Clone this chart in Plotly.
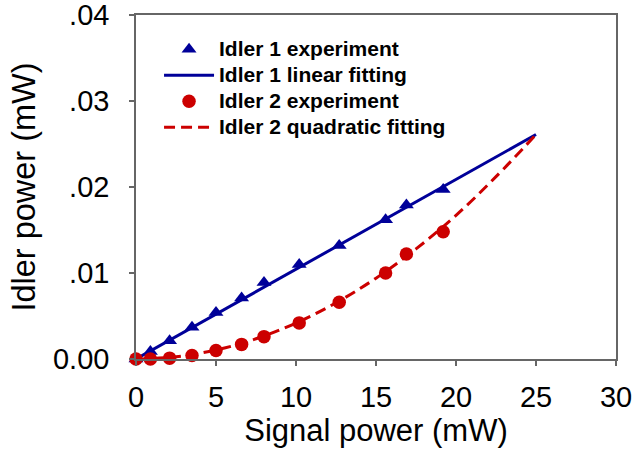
import plotly.graph_objects as go

# Data
signal_x = [0, 0.9, 2.1, 3.5, 5.0, 6.6, 8.0, 10.2, 12.7, 15.6, 16.9, 19.2]
idler1_y = [0, 0.00088, 0.00213, 0.0037, 0.0054, 0.0071, 0.0089, 0.0110, 0.0132, 0.0162, 0.0179, 0.0197]
idler2_y = [0, 0.0000, 0.0001, 0.0004, 0.0010, 0.0017, 0.0026, 0.0042, 0.0066, 0.0100, 0.0122, 0.0148]

lin_fit_x = [0, 25]
lin_fit_y = [0, 0.0261]

quad_fit_x = [0, 2.5, 5, 7.5, 10, 12.5, 15, 17.5, 20, 22.5, 25]
quad_fit_y = [0, 0.00026, 0.00105, 0.00235, 0.00418, 0.00653, 0.0094, 0.0128, 0.0167, 0.0212, 0.0261]

x_ticks = [0, 5, 10, 15, 20, 25, 30]
y_ticks = [0, 0.01, 0.02, 0.03, 0.04]
y_tick_text = ["0.00", ".01", ".02", ".03", ".04"]

BLUE = "#000099"
RED = "#CC0000"
FONT = "Liberation Sans, Arial, sans-serif"
AXIS_COLOR = "#666666"


def legend_label(text):
    return '<span style="font-size:21px">' + text + "</span>"


fig = go.Figure()

fig.add_trace(go.Scatter(
    x=lin_fit_x, y=lin_fit_y, mode="lines", name=legend_label("Idler 1 linear fitting"),
    line=dict(color=BLUE, width=3), legendrank=2, cliponaxis=False))
fig.add_trace(go.Scatter(
    x=signal_x, y=idler1_y, mode="markers", name=legend_label("Idler 1 experiment"),
    marker=dict(symbol="triangle-up", size=13, color=BLUE), legendrank=1, cliponaxis=False))
fig.add_trace(go.Scatter(
    x=quad_fit_x, y=quad_fit_y, mode="lines", name=legend_label("Idler 2 quadratic fitting"),
    line=dict(color=RED, width=3, dash="11px,6px", shape="spline"), legendrank=4, cliponaxis=False))
fig.add_trace(go.Scatter(
    x=signal_x, y=idler2_y, mode="markers", name=legend_label("Idler 2 experiment"),
    marker=dict(symbol="circle", size=13.5, color=RED), legendrank=3, cliponaxis=False))

fig.update_layout(
    width=634, height=456,
    margin=dict(l=136, r=18, t=15, b=97, autoexpand=False),
    paper_bgcolor="white", plot_bgcolor="white",
    font=dict(family=FONT, color="black"),
    showlegend=True,
    legend=dict(
        x=0.048, y=0.953, xanchor="left", yanchor="top",
        bgcolor="rgba(0,0,0,0)", borderwidth=0,
        font=dict(family=FONT, size=17.7, color="black", weight="bold"),
        itemwidth=50, traceorder="normal", tracegroupgap=0,
    ),
    xaxis=dict(
        range=[0, 30], tickvals=x_ticks, ticks="outside", ticklen=5, tickwidth=1.5,
        tickcolor=AXIS_COLOR, showline=True, linecolor=AXIS_COLOR, linewidth=1.5,
        mirror=True, showgrid=False, zeroline=False,
        tickfont=dict(size=29, family=FONT, color="black"), ticklabelstandoff=6,
        title=dict(text="Signal power (mW)", font=dict(size=31, family=FONT, color="black"), standoff=1),
        automargin=False,
    ),
    yaxis=dict(
        range=[0, 0.04], tickvals=y_ticks, ticktext=y_tick_text, ticks="outside", ticklen=5,
        tickwidth=1.5, tickcolor=AXIS_COLOR, showline=True, linecolor=AXIS_COLOR, linewidth=1.5,
        mirror=True, showgrid=False, zeroline=False, ticklabeloverflow="allow",
        tickfont=dict(size=29, family=FONT, color="black"), ticklabelstandoff=14,
        title=dict(text="Idler power (mW)", font=dict(size=32.5, family=FONT, color="black"), standoff=8),
        automargin=False,
    ),
)

fig.write_html("out.html")
